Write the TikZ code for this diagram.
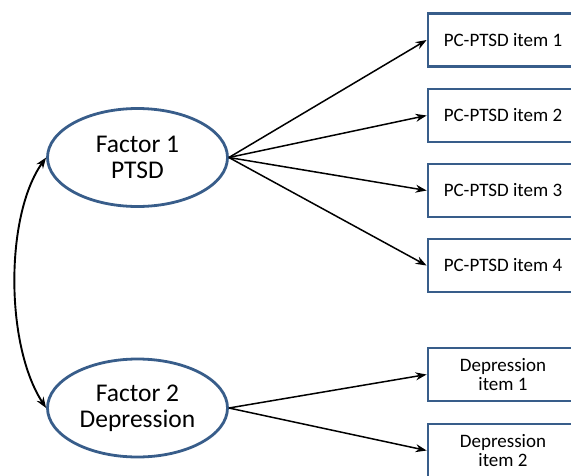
\documentclass[tikz,border=0pt]{standalone}
\usepackage{fontspec}
\setmainfont{Carlito}
\usetikzlibrary{arrows.meta,shapes.geometric}
\definecolor{outl}{RGB}{56,93,138}
\tikzset{
  factor/.style={ellipse,draw=outl,line width=2.8pt,minimum width=180pt,minimum height=98pt,align=center,font=\fontsize{25.5}{26}\selectfont,inner sep=0pt},
  itembox/.style={rectangle,draw=outl,line width=2.8pt,minimum width=150pt,minimum height=53pt,align=center,inner sep=0pt},
  loadarrow/.style={draw=black,line width=1.5pt,-{Stealth[length=11pt,width=8pt]}},
  cov/.style={draw=black,line width=1.9pt,{Stealth[length=11pt,width=8pt]}-{Stealth[length=11pt,width=8pt]}}
}
\begin{document}
\begin{tikzpicture}[x=1pt,y=-1pt]
\useasboundingbox (0,0) rectangle (571,475);
\clip (0,0) rectangle (571,475);
\node[factor] (f1) at (137.5,157.5) {Factor 1\\PTSD};
\node[factor] (f2) at (137.5,408) {Factor 2\\Depression};
\begin{scope}[every node/.append style={itembox,font=\fontsize{19}{20}\selectfont}]
\node (p1) at (503,40) {PC-PTSD item 1};
\node (p2) at (503,115.5) {PC-PTSD item 2};
\node (p3) at (503,190.5) {PC-PTSD item 3};
\node (p4) at (503,265.5) {PC-PTSD item 4};
\end{scope}
\begin{scope}[every node/.append style={itembox,font=\fontsize{19}{19.5}\selectfont}]
\node (d1) at (503,374.5) {Depression\\item 1};
\node (d2) at (503,450.5) {Depression\\item 2};
\end{scope}
\foreach \t in {p1,p2,p3,p4} \draw[loadarrow] (f1.east) -- (\t.west);
\foreach \t in {d1,d2} \draw[loadarrow] (f2.east) -- (\t.west);
\draw[cov] (f1.west) .. controls (5,215) and (5,345) .. (f2.west);
\end{tikzpicture}
\end{document}
